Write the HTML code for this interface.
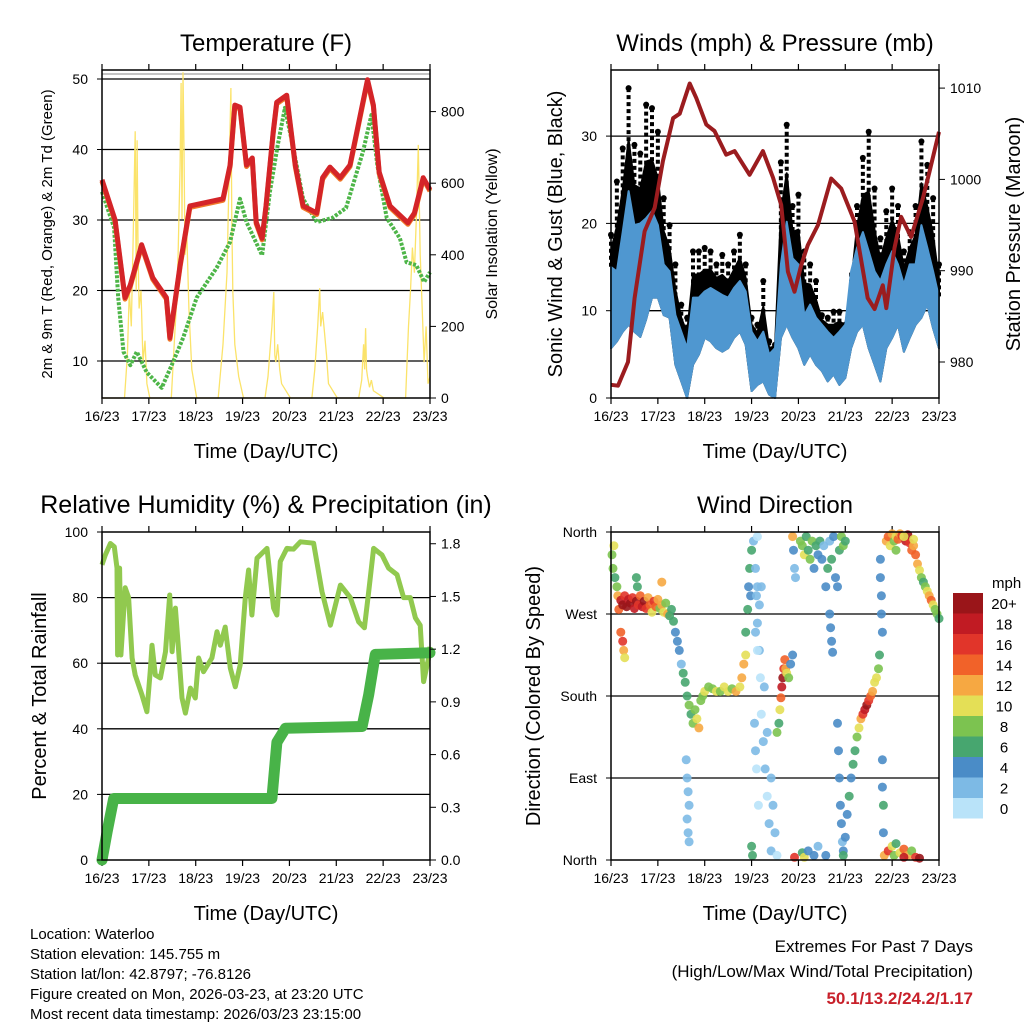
<!DOCTYPE html>
<html><head><meta charset="utf-8"><title>Station Meteogram</title>
<style>
html,body{margin:0;padding:0;background:#fff;}
svg{display:block;font-family:"Liberation Sans",sans-serif;}
</style></head>
<body>
<svg id="chart" width="1024" height="1024" viewBox="0 0 1024 1024" xmlns="http://www.w3.org/2000/svg">
<rect width="1024" height="1024" fill="#fff"/>
</svg>
<script>
// ---- Temperature panel data ----
const tempT = [0,6.7,11.8,14.5,20.3,26,33,34.8,40,45,62,65.6,68,70.7,74,77,79,82,84,87.7,89.5,94.6,99,103,110,113,116.8,122,127,132,136,139,142,147.5,156.7,160,164.5,168];
const tempV = [35.7,30,19,20.8,26.5,21.8,19,13.3,23.6,32,33,37.8,46.3,46,37.8,38.8,29.7,27.4,32,42.5,46.7,47.7,37.8,32,31,36,37.5,36,37.8,44.5,49.9,46.3,36.8,32,29.6,31,36,34.3];
const dewT = [0,6.2,8.3,11,14.5,17.8,22.9,30.6,35.7,41.6,48.5,58.7,65.6,70.7,74,82,86,90,93.7,98,103,110,118,125,133.7,138,141,145.8,152.6,156,161,165,168];
const dewV = [34,28.9,19,11.3,9.4,11.3,8.4,6.2,9.4,13.3,19,23.2,26.9,33,29.7,25,34,40.6,45.9,40.2,33,29.7,30.3,31.7,39.7,44.9,37.8,30.3,27.4,24,23.6,21.2,22.6];
const solarT = [0,11.5,13,14,15,16,17,17.5,18,18.5,19,20,21,22,23,24.5,35.5,37,38,39,40,40.5,41,41.5,42,42.5,43.5,44.5,46,48.5,59.5,62,64,65,66,66.5,67,68,70,72.5,83.5,85,86,87,88,88.5,89,90,91,92,96.5,107.5,109,110.5,111.5,112,113,114,115,116,120.5,131.5,133,134,134.5,135,135.5,136,137,138,139,144.5,155.5,157,158,159,160,161,162,163,164,165,166,167,168];
const solarV = [0,0,120,300,200,450,745,300,720,400,250,300,100,160,40,0,0,150,250,400,650,880,500,910,700,400,450,250,80,0,0,150,350,600,866,500,300,150,60,0,0,60,130,200,296,120,100,150,80,40,0,0,80,200,307,200,240,180,120,40,0,0,50,150,80,195,80,60,30,50,20,0,0,200,300,420,350,500,707,400,250,100,200,40,60];
// ---- Winds panel data ----
const windT = [0,3,6,9,12,15,18,21,24,27,30,33,36,39,42,45,48,51,54,57,60,63,66,69,72,75,78,81,84,87,90,93,96,99,102,105,108,111,114,117,120,123,126,129,132,135,138,141,144,147,150,153,156,159,162,165,168];
const windHi = [15,14.5,19,23.7,19.8,20,20.6,21.4,19.8,15.3,14.5,9.5,7.6,5.7,11.5,11.5,12.2,12.6,12.2,11.8,11.5,12.6,13.4,12.2,7.6,6.5,7.6,5,5.7,15.3,20.2,16,15.3,9.5,10.7,9.2,8.4,7.6,6.9,7.6,8.4,14.5,17.2,19,16.8,14.5,13.4,15.3,16.8,15.3,13,15.3,15.3,19.8,17.2,14.5,11.5];
const windLo = [5.7,6.5,7.6,8.4,7.6,7,9,11.5,11.5,9.5,9.2,3.8,1.9,0,3.8,5,6.9,6.5,5.7,5.3,5.7,6.9,7.6,6.1,0.8,1.5,1.9,0.4,0,6.9,8.4,6.9,5.7,3.8,5,3.8,3.1,1.9,2.7,1.5,2.3,5.7,7.6,8.4,5.7,3.8,1.9,5.7,6.9,8.4,5.3,6.9,8.4,9.2,10.7,8,5.7];
const gustHi = [18.7,24.8,28.6,35.5,29,28,33.6,33.2,30.5,22.9,19.8,15.3,10.7,9.2,16.8,16.8,17.2,16.8,15.3,16.4,15.3,16.8,18.7,15.3,9.2,8.4,13.4,6.5,6.1,27,31.3,22,23.3,16.8,15.3,13.4,9.5,9.2,9.9,9.9,8.4,11.5,22,27.5,30.5,24,18.3,21.4,24,22,16.8,19,22,29.4,26.7,22.9,15.3];
const presT = [0,3.6,8.7,12.1,17.2,22.4,26.6,31.8,35.2,40.3,43.7,48.8,53,59,63.3,71,77.8,83,87.2,90.6,94,97.4,100.8,106,112.8,117.9,124.7,131.5,135,139.2,141,145.2,148.6,153.7,159.7,163.1,168];
const presV = [977.5,977.4,980,987,994.3,996.9,1002,1006.7,1007.2,1010.5,1008.9,1006,1005.3,1002.7,1003.1,1000.5,1003.1,1000.2,997.2,989.9,987.7,990.6,992.8,995,1000.1,999,995.4,987,985.8,988.4,985.9,992.5,995.9,993.7,997.9,1000.8,1005.2];
// ---- RH / precipitation data ----
const rhT = [0,1.7,4.3,6.3,7.7,8,9,9.7,11.9,13.6,15.4,17,20.5,23,24.7,25.6,27.3,29.9,32.5,34.7,35.9,37.6,39.3,41,42.7,45.3,47.8,49.5,52,56.3,58.9,60.6,63.1,65.7,68.3,70.8,73.4,75.1,76.8,79.4,84.5,87.9,89.6,91.3,94.7,98.1,101.6,108.4,112.7,117,122.1,127.2,131.5,134.4,136.6,139.1,143.4,146.8,151.1,154.5,157.9,160.5,163,164.7,167.3,168];
const rhV = [90,93,96.5,95.5,89,62.5,89,62.5,83,80,61.6,56.4,50.3,45.2,57.4,65.5,56.4,55.5,63.5,80.8,63.5,76.8,63.5,49.4,44.8,52.4,49.4,61.6,57.4,61.6,69.6,65.5,71,58.5,52.8,59.5,80,88.4,74.7,92,95,76.8,74.7,91,95,94.8,97,96.6,81.8,71.6,83.8,80,72.6,70.8,81.8,95,93,89,87,80,80,73.8,71.6,54.4,61.6,65];
const precT = [0,2.6,6,87,89.6,94,133.2,136.6,140,168];
const precV = [0,0.16,0.35,0.35,0.67,0.75,0.76,0.94,1.17,1.18];
// ---- Wind direction data: hour, degrees, mph ----
const dirT = [0.5,1,1.5,2,3,3.5,4,5,6,7,8,9,10,11,12,13,14,15,16,17,18,19,20,21,22,23,24,25,26,27,28,29,30,5,6,6.5,7,13,13.5,26,
31,32,33,34,35,36,37,38,39,40,41,42,38.5,39,39.5,40,39,39.5,40,
43,44,45,46,47,48,50,52,54,56,58,60,62,64,66,67,68,69,
69,70,70.5,71,71.5,72,72,72.5,
73,74,74.5,75,76,76.5,77,78,79,80,81,82,75,77,78.5,80,82,83,84,85,75,76,74,75,73.5,74,74.5,75.5,
85,86,86.5,87,87.5,88,88.5,89,89.5,90,91,92,93,93,93.5,94,94.5,94,98,99,101,104,106,110,
97,98,99,100,101,102,103,104,105,106,107,108,109,110,111,112,113,114,115,116,117,118,119,120,112,112.5,113,113.5,
116,116.5,117,117.5,118,118.5,119,
119,120,121,122,123,124,125,126,127,128,129,130,131,132,133,134,135,136,137,
138,138,138.5,138.5,139,137.5,139,139,139.5,139.5,
141,142,143,144,145,146,147,148,149,150,151,152,153,154,155,156,157,158,159,160,161,162,163,164,165,166,167,168,146,150,155,
140,142,144,145,146,148,150,152,154,156,158,150];
const dirV = [335,320,345,310,300,290,275,285,280,290,278,286,282,288,276,284,280,290,278,284,276,288,280,272,284,278,286,276,280,272,282,270,268,250,240,230,222,310,300,305,
275,262,250,240,230,215,205,195,180,170,160,150,110,90,75,60,45,30,20,
165,155,145,175,180,185,190,188,185,185,190,185,188,185,190,200,215,225,
250,275,300,320,290,340,15,5,
350,320,290,260,230,200,160,130,100,70,40,10,355,300,190,140,90,60,30,5,300,280,250,230,150,120,100,60,
140,150,165,178,190,200,210,220,210,205,200,215,225,355,340,320,310,3,8,3,10,5,15,5,
350,345,335,355,340,330,350,320,345,335,350,330,345,300,320,350,330,355,310,300,340,355,345,350,270,255,240,228,
150,120,90,60,40,20,10,
5,25,50,70,90,105,120,135,145,155,160,165,170,175,180,185,195,200,210,
330,310,290,270,250,225,110,80,60,30,
350,355,345,358,350,355,352,358,356,355,350,357,348,340,345,335,325,318,310,305,300,295,290,285,280,275,270,265,340,355,352,
5,10,15,5,18,8,12,5,10,3,2,3];
const dirS = [9,8,10,7,8,12,14,18,20,16,22,18,20,16,18,20,16,14,18,20,16,12,14,10,16,14,12,8,12,10,8,12,6,14,16,12,10,7,6,12,
6,6,5,4,4,3,6,7,6,8,7,9,3,2,3,2,3,2,3,
8,10,12,9,8,10,9,8,10,9,11,10,9,12,10,12,12,11,
7,6,5,6,4,7,6,7,
2,2,3,2,2,1,1,2,2,1,3,2,1,2,2,3,2,3,2,1,3,2,3,1,2,2,1,1,
8,7,10,14,18,20,16,14,12,10,8,5,4,12,4,2,3,16,6,10,4,4,3,4,
8,9,10,7,6,8,9,5,7,4,6,4,3,4,6,3,7,4,4,4,6,8,9,7,4,4,4,4,
4,4,4,4,4,3,4,
6,4,5,6,5,6,7,8,10,12,16,18,20,16,14,12,11,10,8,
4,4,4,4,4,6,4,4,6,4,
12,14,10,12,8,10,14,12,16,12,18,20,16,14,12,14,12,10,8,6,8,10,12,14,10,8,9,7,8,10,11,
12,16,10,8,6,10,14,12,8,16,20,18];
const dayLabels = ["16/23","17/23","18/23","19/23","20/23","21/23","22/23","23/23"];
const tempTicks = [10,20,30,40,50];
const solarTicks = [0,200,400,600,800];
const windTicks = [0,10,20,30];
const presTicks = [980,990,1000,1010];
const rhTicks = [0,20,40,60,80,100];
const precTicks = ["0.0","0.3","0.6","0.9","1.2","1.5","1.8"];
const dirTicks = ["North","East","South","West","North"];
const speedLabels = ["20+","18","16","14","12","10","8","6","4","2","0"];
const speedColors = ["#b9e3f9","#7dbae5","#4a8cc7","#47a66f","#7cc350","#e4df56","#f6a842","#f16229","#e1352a","#c11b23","#9a1519"];

const svg = document.getElementById('chart');
const NS = 'http://www.w3.org/2000/svg';
function mk(tag, attrs, parent){
  const e = document.createElementNS(NS, tag);
  for (const k in attrs) e.setAttribute(k, attrs[k]);
  (parent||svg).appendChild(e);
  return e;
}
function txt(str, x, y, size, anchor, parent, extra){
  const e = mk('text', Object.assign({x:x, y:y, 'font-size':size, 'text-anchor':anchor||'middle', fill:'#000'}, extra||{}), parent);
  e.textContent = str;
  return e;
}
function lineD(ts, vs, fx, fy){
  return ts.map((t,i)=>(i?'L':'M')+fx(t).toFixed(1)+','+fy(vs[i]).toFixed(1)).join('');
}
const PW = 328, PH = 328;
function xAxisFn(x0){ return t => x0 + t*PW/168; }

function panelFrame(name, x0, y0, gridYs, title, xlabel, tsize){
  const g = mk('g', {});
  
  
  const ft = txt(title, x0+PW/2, y0-19, tsize||24, 'middle', g);
  
  
  gridYs.forEach(y=>{
    const l = mk('line', {x1:x0, x2:x0+PW, y1:y, y2:y, stroke:'#000', 'stroke-width':1.3}, g);
    
    
  });
  for (let d=0; d<8; d++){
    const x = x0 + d*PW/7;
    mk('line', {x1:x, x2:x, y1:y0+PH, y2:y0+PH+6, stroke:'#000', 'stroke-width':1.2}, g);
    mk('line', {x1:x, x2:x, y1:y0, y2:y0-6, stroke:'#000', 'stroke-width':1.2}, g);
    const tl = txt(dayLabels[d], x, y0+PH+23, 14, 'middle', g);
    
    
  }
  const xl = txt(xlabel, x0+PW/2, y0+PH+60, 20, 'middle', g);
  
  
  return g;
}
function frameBox(g, x0, y0){
  const r = mk('rect', {x:x0, y:y0, width:PW, height:PH, fill:'none', stroke:'#000', 'stroke-width':1.5}, g);
  
  
}
function yLabelRot(str, x, y, size, g, name){
  const e = txt(str, x, y, size, 'middle', g, {transform:'rotate(-90 '+x+' '+y+')'});
  
  
}

// ===== Temperature =====
(function(){
  const x0=102, y0=70;
  const xT = xAxisFn(x0);
  const yT = v => 361 - (v-10)*7.05;
  const yS = v => 398 - v*0.358;
  const g = panelFrame('temperature-panel', x0, y0, tempTicks.map(yT), 'Temperature (F)', 'Time (Day/UTC)');
  mk('line', {x1:x0, x2:x0+PW, y1:74, y2:74, stroke:'#888', 'stroke-width':1}, g);
  const sol = mk('path', {d:lineD(solarT, solarV, xT, yS), fill:'none', stroke:'#fbe36a', 'stroke-width':1.3}, g);
  
  
  const dew = mk('path', {d:lineD(dewT, dewV, xT, yT), fill:'none', stroke:'#4db548', 'stroke-width':4, 'stroke-dasharray':'3 1.5', 'stroke-linejoin':'round'}, g);
  
  
  const t9 = mk('path', {d:lineD(tempT, tempV, xT, v=>yT(v)+1.5), fill:'none', stroke:'#f07a2a', 'stroke-width':5, 'stroke-linejoin':'round'}, g);
  
  
  const t2 = mk('path', {d:lineD(tempT, tempV, xT, yT), fill:'none', stroke:'#d42428', 'stroke-width':5, 'stroke-linejoin':'round'}, g);
  
  
  frameBox(g, x0, y0);
  tempTicks.forEach(v=>{
    const l = txt(String(v), 88, yT(v)+5, 14, 'end', g);
    
    
    mk('line', {x1:x0-5, x2:x0, y1:yT(v), y2:yT(v), stroke:'#000'}, g);
  });
  solarTicks.forEach(v=>{
    const l = txt(String(v), 441, yS(v)+5, 14, 'start', g);
    
    
    mk('line', {x1:x0+PW, x2:x0+PW+6, y1:yS(v), y2:yS(v), stroke:'#000'}, g);
  });
  yLabelRot('2m & 9m T (Red, Orange) & 2m Td (Green)', 52, 234, 15, g, 'y-axis-title');
  yLabelRot('Solar Insolation (Yellow)', 497, 234, 16, g, 'y2-axis-title');
})();

// ===== Winds =====
(function(){
  const x0=611, y0=70;
  const xW = xAxisFn(x0);
  const yW = v => 398 - v*8.73;
  const yP = p => 362 - (p-980)*9.13;
  const g = panelFrame('winds-panel', x0, y0, [10,20,30].map(yW), 'Winds (mph) & Pressure (mb)', 'Time (Day/UTC)');
  function band(hiF, lo, color, name){
    let d = windT.map((t,i)=>(i?'L':'M')+xW(t).toFixed(1)+','+yW(hiF(i)).toFixed(1)).join('');
    for (let i=windT.length-1;i>=0;i--) d += 'L'+xW(windT[i]).toFixed(1)+','+yW(lo[i]).toFixed(1);
    const p = mk('path', {d:d+'Z', fill:color, stroke:color, 'stroke-width':2, 'stroke-linejoin':'round'}, g);
    
    
  }
  band(i => (gustHi[i]+windHi[i])/2, windLo, '#000', 'gust-band');
  windT.forEach((t,i)=>{
    const l = mk('line', {x1:xW(t), x2:xW(t), y1:yW(gustHi[i]), y2:yW(windHi[i]), stroke:'#000', 'stroke-width':4, 'stroke-dasharray':'4 3'}, g);
    
    
    const c = mk('circle', {cx:xW(t), cy:yW(gustHi[i]), r:3, fill:'#000'}, g);
    
    
  });
  band(i => windHi[i], windLo, '#4f97d0', 'wind-band');
  const pl = mk('path', {d:lineD(presT, presV, xW, yP), fill:'none', stroke:'#9b1c1f', 'stroke-width':4, 'stroke-linejoin':'round'}, g);
  
  
  frameBox(g, x0, y0);
  windTicks.forEach(v=>{
    const l = txt(String(v), 597, yW(v)+5, 14, 'end', g);
    
    
    mk('line', {x1:x0-5, x2:x0, y1:yW(v), y2:yW(v), stroke:'#000'}, g);
  });
  presTicks.forEach(v=>{
    const l = txt(String(v), 950, yP(v)+5, 14, 'start', g);
    
    
    mk('line', {x1:x0+PW, x2:x0+PW+6, y1:yP(v), y2:yP(v), stroke:'#000'}, g);
  });
  yLabelRot('Sonic Wind & Gust (Blue, Black)', 562, 234, 20, g, 'y-axis-title');
  yLabelRot('Station Pressure (Maroon)', 1020, 234, 20, g, 'y2-axis-title');
})();

// ===== RH & Precip =====
(function(){
  const x0=102, y0=532;
  const xR = xAxisFn(x0);
  const yR = v => 860 - v*3.28;
  const yPr = v => 860 - v*175.7;
  const g = panelFrame('humidity-panel', x0, y0, [20,40,60,80].map(yR), 'Relative Humidity (%) & Precipitation (in)', 'Time (Day/UTC)', 25);
  const rl = mk('path', {d:lineD(rhT, rhV, xR, yR), fill:'none', stroke:'#91c94f', 'stroke-width':5, 'stroke-linejoin':'round'}, g);
  
  
  const pl = mk('path', {d:lineD(precT, precV, xR, yPr), fill:'none', stroke:'#48b348', 'stroke-width':11, 'stroke-linejoin':'round', 'stroke-linecap':'round'}, g);
  
  
  frameBox(g, x0, y0);
  rhTicks.forEach(v=>{
    const l = txt(String(v), 88, yR(v)+5, 14, 'end', g);
    
    
    mk('line', {x1:x0-5, x2:x0, y1:yR(v), y2:yR(v), stroke:'#000'}, g);
  });
  precTicks.forEach(s=>{
    const v = parseFloat(s);
    const l = txt(s, 441, yPr(v)+5, 14, 'start', g);
    
    
    mk('line', {x1:x0+PW, x2:x0+PW+6, y1:yPr(v), y2:yPr(v), stroke:'#000'}, g);
  });
  yLabelRot('Percent & Total Rainfall', 46, 696, 20, g, 'y-axis-title');
})();

// ===== Wind direction =====
(function(){
  const x0=611, y0=532;
  const xD = xAxisFn(x0);
  const yD = d => 860 - d*0.9111;
  const g = panelFrame('wind-direction-panel', x0, y0, [90,180,270].map(yD), 'Wind Direction', 'Time (Day/UTC)');
  dirT.forEach((t,i)=>{
    const b = Math.min(10, Math.floor(dirS[i]/2));
    const c = mk('circle', {cx:xD(t).toFixed(1), cy:yD(dirV[i]).toFixed(1), r:4.5, fill:speedColors[b], 'fill-opacity':0.9}, g);
    
    
  });
  frameBox(g, x0, y0);
  dirTicks.forEach((s,i)=>{
    const y = yD(i*90);
    const l = txt(s, 597, y+5, 14, 'end', g);
    
    
    mk('line', {x1:x0-5, x2:x0, y1:y, y2:y, stroke:'#000'}, g);
  });
  yLabelRot('Direction (Colored By Speed)', 540, 696, 20, g, 'y-axis-title');
  const cb = mk('g', {}, svg);
  
  
  const u = txt('mph', 992, 588, 15, 'start', cb);
  
  
  speedLabels.forEach((s,i)=>{
    const y = 593 + i*20.5;
    const r = mk('rect', {x:953, y:y, width:30, height:20.5, fill:speedColors[10-i]}, cb);
    
    
    const l = txt(s, 1004, y+16, 15, 'middle', cb);
    
    
  });
})();

// ===== Footer =====
(function(){
  const g = mk('g', {});
  
  
  ["Location: Waterloo","Station elevation: 145.755 m","Station lat/lon: 42.8797; -76.8126","Figure created on Mon, 2026-03-23, at 23:20 UTC","Most recent data timestamp: 2026/03/23 23:15:00"].forEach((s,i)=>{
    const l = txt(s, 30, 939+i*20, 15, 'start', g);
    
    
  });
  const e = mk('g', {});
  
  
  const a = txt('Extremes For Past 7 Days', 973, 952, 17, 'end', e);
  
  
  const b = txt('(High/Low/Max Wind/Total Precipitation)', 973, 977, 17, 'end', e);
  
  
  const c = txt('50.1/13.2/24.2/1.17', 973, 1004, 17, 'end', e, {fill:'#c8202a', 'font-weight':'bold'});
  
  
})();
</script>
</body></html>
